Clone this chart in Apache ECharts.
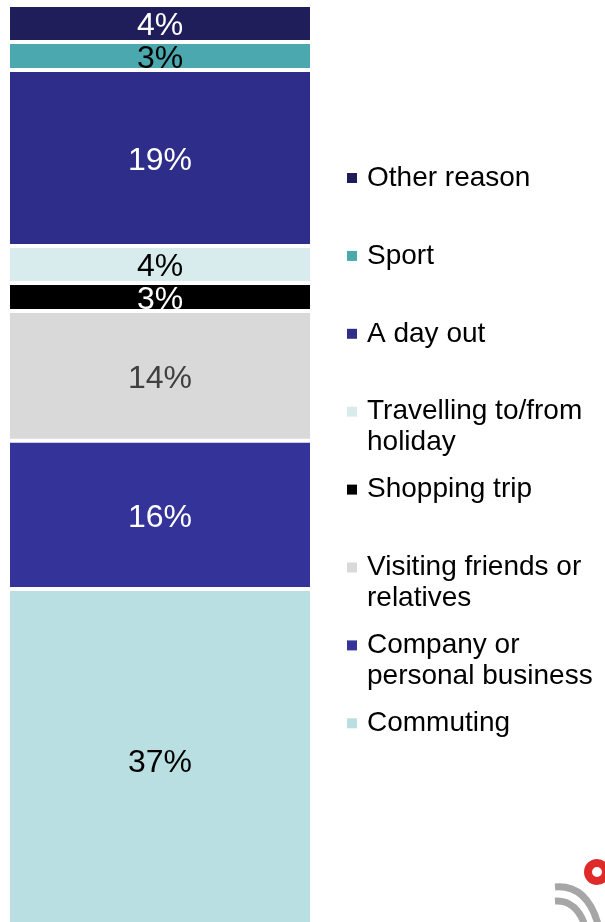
<!DOCTYPE html>
<html>
<head>
<meta charset="utf-8">
<script src="https://cdn.jsdelivr.net/npm/echarts@6/dist/echarts.min.js"></script>
<style>
  html, body { margin: 0; padding: 0; background: #ffffff; }
  #chart { width: 605px; height: 922px; }
</style>
</head>
<body>
<div id="chart"></div>
<script>
// Journey purpose shares, stacked from the bottom of the bar upwards
const purposes = [
  'Commuting',
  'Company or personal business',
  'Visiting friends or relatives',
  'Shopping trip',
  'Travelling to/from holiday',
  'A day out',
  'Sport',
  'Other reason'
];
const shares = [37, 16, 14, 3, 4, 19, 3, 4];

// Legend text as it wraps on screen
const legendLines = {
  'Other reason': ['Other reason'],
  'Sport': ['Sport'],
  'A day out': ['A day out'],
  'Travelling to/from holiday': ['Travelling to/from', 'holiday'],
  'Shopping trip': ['Shopping trip'],
  'Visiting friends or relatives': ['Visiting friends or', 'relatives'],
  'Company or personal business': ['Company or', 'personal business'],
  'Commuting': ['Commuting']
};
const legendOrder = [
  'Other reason', 'Sport', 'A day out', 'Travelling to/from holiday',
  'Shopping trip', 'Visiting friends or relatives',
  'Company or personal business', 'Commuting'
];

const fills = {
  'Commuting': '#B9DFE2',
  'Company or personal business': '#333399',
  'Visiting friends or relatives': '#D9D9D9',
  'Shopping trip': '#000000',
  'Travelling to/from holiday': '#D8ECEE',
  'A day out': '#2E2E8A',
  'Sport': '#4AA8AE',
  'Other reason': '#201E5A'
};
const labelInk = {
  'Commuting': '#000000',
  'Company or personal business': '#ffffff',
  'Visiting friends or relatives': '#404040',
  'Shopping trip': '#ffffff',
  'Travelling to/from holiday': '#000000',
  'A day out': '#ffffff',
  'Sport': '#000000',
  'Other reason': '#ffffff'
};

const FONT = '"Liberation Sans", Arial, sans-serif';
const LEGEND_FIRST = 178;
const LEGEND_STEP = 77.9;
const LINE_H = 31;

const chart = echarts.init(document.getElementById('chart'), null, { renderer: 'canvas' });

const series = purposes.map((name, i) => ({
  name: name,
  type: 'bar',
  stack: 'total',
  barWidth: '100%',
  data: [shares[i]],
  itemStyle: { color: fills[name], borderColor: '#ffffff', borderWidth: 2 },
  label: {
    show: true,
    position: 'inside',
    offset: [0, 3],
    formatter: '{c}%',
    color: labelInk[name],
    fontFamily: FONT,
    fontSize: 32
  },
  emphasis: { disabled: true },
  silent: true
}));

const legends = legendOrder.map((name, i) => ({
  data: [name],
  orient: 'vertical',
  left: 347,
  top: LEGEND_FIRST + i * LEGEND_STEP - LINE_H / 2,
  icon: 'rect',
  itemWidth: 10,
  itemHeight: 10,
  itemGap: 0,
  padding: 0,
  selectedMode: false,
  itemStyle: { borderWidth: 0 },
  formatter: () => legendLines[name][0],
  textStyle: {
    fontFamily: FONT,
    fontSize: 28,
    color: '#000000',
    lineHeight: LINE_H,
    padding: [0, 0, 0, 5]
  }
}));

// continuation lines of wrapped legend entries
const wrapTexts = [];
legendOrder.forEach((name, i) => {
  legendLines[name].slice(1).forEach((line, k) => {
    wrapTexts.push({
      type: 'text',
      left: 367,
      top: LEGEND_FIRST + i * LEGEND_STEP + (k + 1) * LINE_H - LINE_H / 2,
      style: {
        text: line,
        font: '28px ' + FONT,
        fill: '#000000',
        lineHeight: LINE_H,
        verticalAlign: 'top'
      },
      silent: true
    });
  });
});

// corner emblem
const emblem = {
  type: 'group',
  silent: true,
  children: [
    {
      type: 'bezierCurve',
      shape: { x1: 555, y1: 887, x2: 598, y2: 924, cpx1: 578, cpy1: 885, cpx2: 591, cpy2: 900 },
      style: { stroke: '#A6A6A6', lineWidth: 7, fill: null }
    },
    {
      type: 'bezierCurve',
      shape: { x1: 555, y1: 901, x2: 585, y2: 926, cpx1: 570, cpy1: 900, cpx2: 580, cpy2: 910 },
      style: { stroke: '#A6A6A6', lineWidth: 7, fill: null }
    },
    {
      type: 'arc',
      shape: { cx: 597, cy: 872, r: 9, startAngle: 0, endAngle: Math.PI * 2 },
      style: { stroke: '#E02A2A', lineWidth: 8, fill: null }
    }
  ]
};

chart.setOption({
  animation: false,
  backgroundColor: '#ffffff',
  // the bar runs on past the lower edge of the canvas
  grid: { left: 8, width: 304, top: 5, height: 927, outerBoundsMode: 'none', containLabel: false },
  xAxis: { type: 'category', data: ['Purpose'], show: false },
  yAxis: { type: 'value', min: 0, max: 100, show: false },
  legend: legends,
  series: series,
  graphic: wrapTexts.concat([emblem])
});
</script>
</body>
</html>
